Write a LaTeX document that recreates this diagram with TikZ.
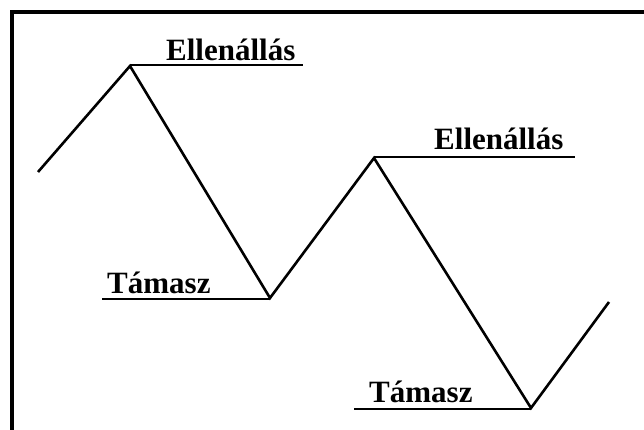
\documentclass[tikz,border=0pt]{standalone}
\usepackage{fontspec}
\setmainfont{Liberation Serif}
\begin{document}
\begin{tikzpicture}[x=1pt,y=-1pt,
  wave/.style={line width=2.6pt,line join=miter},
  level/.style={line width=2pt},
  frameline/.style={line width=3.5pt},
  lbl/.style={inner sep=0pt,anchor=base west,font=\fontsize{31}{36}\selectfont\bfseries}]
\useasboundingbox (0,0) rectangle (644,430);
% frame (cut at right and bottom)
\coordinate (ftr) at (646,12);
\coordinate (ftl) at (12,12);
\coordinate (fbl) at (12,432);
\draw[frameline] (ftr) -- (ftl) -- (fbl);
% zigzag points
\coordinate (s) at (38,172);
\coordinate (p1) at (130,66);
\coordinate (t1) at (270,298);
\coordinate (p2) at (374,158);
\coordinate (t2) at (531,408);
\coordinate (e) at (609,302);
\draw[wave] (s) -- (p1) -- (t1) -- (p2) -- (t2) -- (e);
% level lines
\coordinate (r1e) at (303,65);
\coordinate (r2e) at (575,157);
\coordinate (s1e) at (102,299);
\coordinate (s2e) at (354,409);
\draw[level] (p1 |- r1e) -- (r1e);
\draw[level] (p2 |- r2e) -- (r2e);
\draw[level] (s1e) -- (t1 |- s1e);
\draw[level] (s2e) -- (t2 |- s2e);
% labels
\node[lbl] (r1) at (166,61) {Ellenállás};
\node[lbl] (r2) at (434,150) {Ellenállás};
\node[lbl] (s1) at (107,293) {Támasz};
\node[lbl] (s2) at (369,402) {Támasz};
\end{tikzpicture}
\end{document}
